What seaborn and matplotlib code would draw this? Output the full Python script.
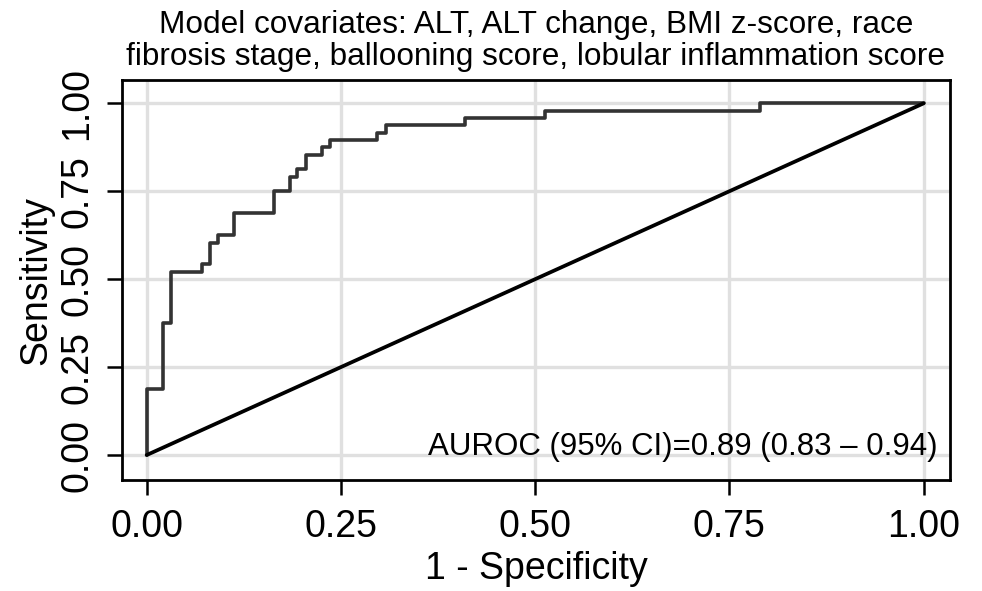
import matplotlib
matplotlib.use("Agg")
import matplotlib.pyplot as plt
import seaborn as sns
import pandas as pd

# ROC curve vertices (1 - specificity, sensitivity)
fpr = [0.0, 0.0, 0.0206, 0.031, 0.0716, 0.0815, 0.0918, 0.113, 0.164, 0.184,
       0.194, 0.205, 0.226, 0.236, 0.297, 0.3076, 0.41, 0.513, 0.789, 1.0]
tpr = [0.0, 0.1875, 0.375, 0.521, 0.542, 0.604, 0.625, 0.6875, 0.75, 0.792,
       0.8125, 0.854, 0.875, 0.896, 0.917, 0.9375, 0.958, 0.979, 1.0, 1.0]
ref_x = [0.0, 1.0]
ref_y = [0.0, 1.0]
ticks = [0.0, 0.25, 0.5, 0.75, 1.0]
tick_labels = ["0.00", "0.25", "0.50", "0.75", "1.00"]
title = ("Model covariates: ALT, ALT change, BMI z-score, race\n"
         "fibrosis stage, ballooning score, lobular inflammation score")
annot = "AUROC (95% CI)=0.89 (0.83 \u2013 0.94)"

sns.set_style("white")
plt.rcParams["font.family"] = ["Liberation Sans", "DejaVu Sans"]
plt.rcParams["text.color"] = "black"
plt.rcParams["axes.labelcolor"] = "black"
plt.rcParams["xtick.color"] = "black"
plt.rcParams["ytick.color"] = "black"

fig = plt.figure(figsize=(9.82, 5.91), dpi=100)
ax = fig.add_axes([0.1242, 0.1878, 0.8432, 0.676])

roc = pd.DataFrame({"fpr": fpr, "tpr": tpr})
diag = pd.DataFrame({"x": ref_x, "y": ref_y})

ax.set_xlim(-0.0318, 1.034)
ax.set_ylim(-0.071, 1.065)
ax.set_xticks(ticks)
ax.set_yticks(ticks)
ax.set_xticklabels(tick_labels, fontsize=27)
ax.set_yticklabels(tick_labels, fontsize=27, rotation=90, va="center")
ax.grid(True, color="#e0e0e0", linewidth=2.4, zorder=0)
ax.set_axisbelow(True)

sns.lineplot(data=roc, x="fpr", y="tpr", sort=False, estimator=None,
             drawstyle="steps-post", color="#333333", linewidth=2.6, ax=ax, zorder=3)
sns.lineplot(data=diag, x="x", y="y", sort=False, estimator=None,
             color="black", linewidth=2.7, ax=ax, zorder=3)

for s in ax.spines.values():
    s.set_visible(True)
    s.set_color("black")
    s.set_linewidth(2.0)

ax.tick_params(axis="both", which="major", direction="out", length=11,
               width=1.8, color="black", bottom=True, left=True)
ax.tick_params(axis="x", pad=10)
ax.tick_params(axis="y", pad=8)

ax.set_xlabel("1 - Specificity", fontsize=27, labelpad=4)
ax.set_ylabel("Sensitivity", fontsize=27, labelpad=4)
ax.set_title(title, fontsize=22.7, pad=11, linespacing=1.1)

ax.text(0.985, 0.045, annot, transform=ax.transAxes, ha="right", va="bottom",
        fontsize=22.5, zorder=4)

fig.savefig("out.png", dpi=100)
